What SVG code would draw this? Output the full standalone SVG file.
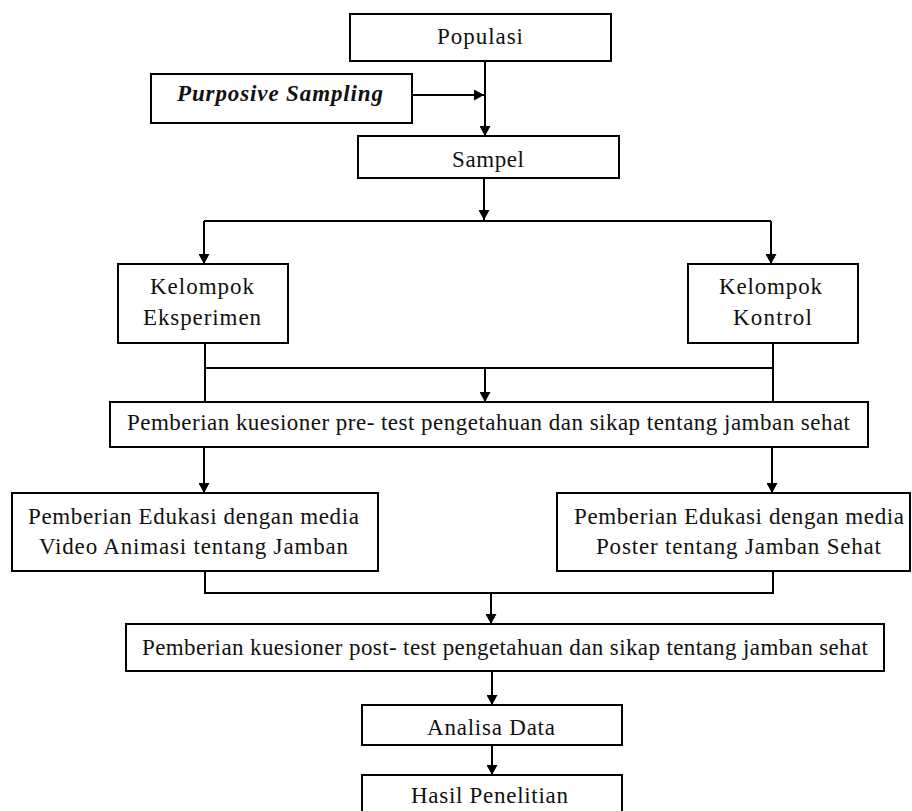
<svg xmlns="http://www.w3.org/2000/svg" width="912" height="811" viewBox="0 0 912 811">
<style>
  .box { fill: #ffffff; stroke: #000000; stroke-width: 2; }
  .t { font-family: "Liberation Serif", "Times New Roman", serif; font-size: 23px; fill: #111111; text-anchor: middle; }
  .bi { font-weight: bold; font-style: italic; }
  .c { fill: none; stroke: #000000; stroke-width: 2; }
  .a { marker-end: url(#arrow); }
</style>
<defs>
  <marker id="arrow" markerUnits="userSpaceOnUse" markerWidth="10" markerHeight="11" viewBox="0 0 10 11" refX="10" refY="5.5" orient="auto">
    <path d="M0,0 L10,5.5 L0,11 z" fill="#000000"/>
  </marker>
</defs>
<rect width="912" height="811" fill="#ffffff"/>

<g id="connectors">
  <path class="c a" d="M485,61 V136"/>
  <path class="c a" d="M412,95 H484"/>
  <path class="c a" d="M484,178 V220"/>
  <path class="c" d="M204,221 H771"/>
  <path class="c a" d="M204,221 V264"/>
  <path class="c a" d="M771,221 V264"/>
  <path class="c" d="M205,343 V402"/>
  <path class="c" d="M773,343 V402"/>
  <path class="c" d="M205,368 H773"/>
  <path class="c a" d="M485,369 V402"/>
  <path class="c a" d="M204,447 V493"/>
  <path class="c a" d="M772,447 V493"/>
  <path class="c" d="M205,571 V593 H773 V571"/>
  <path class="c a" d="M491,593 V624"/>
  <path class="c a" d="M492,671 V705"/>
  <path class="c a" d="M492,745 V775"/>
</g>

<g id="populasi">
  <rect class="box" x="350" y="14" width="261" height="47"/>
  <text class="t" x="480" y="44" textLength="86" lengthAdjust="spacing">Populasi</text>
</g>
<g id="purposive">
  <rect class="box" x="151" y="74" width="261" height="49"/>
  <text class="t bi" x="280" y="101" textLength="206" lengthAdjust="spacing">Purposive Sampling</text>
</g>
<g id="sampel">
  <rect class="box" x="358" y="136" width="261" height="42"/>
  <text class="t" x="488" y="167" textLength="72" lengthAdjust="spacing">Sampel</text>
</g>
<g id="eksperimen">
  <rect class="box" x="118" y="264" width="170" height="79"/>
  <text class="t" x="202" y="294" textLength="104" lengthAdjust="spacing">Kelompok</text>
  <text class="t" x="202" y="325" textLength="118" lengthAdjust="spacing">Eksperimen</text>
</g>
<g id="kontrol">
  <rect class="box" x="688" y="264" width="170" height="79"/>
  <text class="t" x="770.5" y="294" textLength="103" lengthAdjust="spacing">Kelompok</text>
  <text class="t" x="772.5" y="325" textLength="79" lengthAdjust="spacing">Kontrol</text>
</g>
<g id="pretest">
  <rect class="box" x="110" y="402" width="758" height="45"/>
  <text class="t" x="488.5" y="430" textLength="723" lengthAdjust="spacing">Pemberian kuesioner pre- test pengetahuan dan sikap tentang jamban sehat</text>
</g>
<g id="video">
  <rect class="box" x="12" y="493" width="366" height="78"/>
  <text class="t" x="193.5" y="524" textLength="331" lengthAdjust="spacing">Pemberian Edukasi dengan media</text>
  <text class="t" x="193.5" y="554" textLength="309" lengthAdjust="spacing">Video Animasi tentang Jamban</text>
</g>
<g id="poster">
  <rect class="box" x="557" y="493" width="353" height="78"/>
  <text class="t" x="739" y="524" textLength="330" lengthAdjust="spacing">Pemberian Edukasi dengan media</text>
  <text class="t" x="738.5" y="554" textLength="285" lengthAdjust="spacing">Poster tentang Jamban Sehat</text>
</g>
<g id="posttest">
  <rect class="box" x="126" y="624" width="758" height="47"/>
  <text class="t" x="505" y="655" textLength="726" lengthAdjust="spacing">Pemberian kuesioner post- test pengetahuan dan sikap tentang jamban sehat</text>
</g>
<g id="analisa">
  <rect class="box" x="362" y="705" width="260" height="40"/>
  <text class="t" x="491" y="735" textLength="128" lengthAdjust="spacing">Analisa Data</text>
</g>
<g id="hasil">
  <rect class="box" x="362" y="775" width="260" height="46"/>
  <text class="t" x="489.5" y="803" textLength="157" lengthAdjust="spacing">Hasil Penelitian</text>
</g>
</svg>
